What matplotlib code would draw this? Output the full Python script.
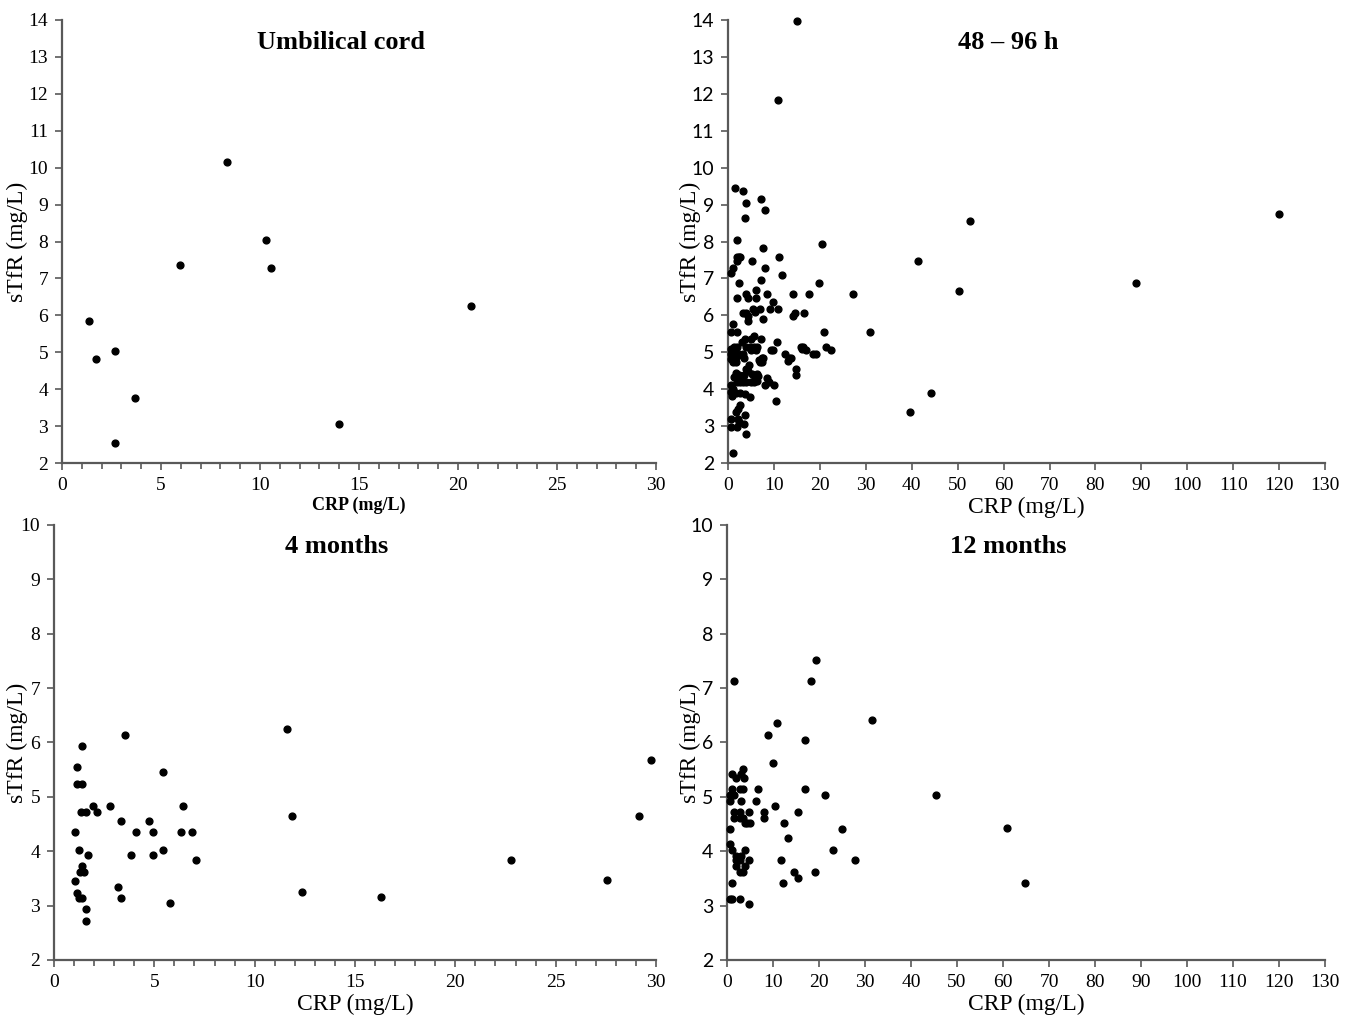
import numpy as np
import matplotlib.pyplot as plt
from matplotlib.ticker import MultipleLocator

# ---- dados: cordão umbilical ----
cord_crp = [1.35, 1.70, 2.66, 2.66, 3.69, 5.94, 8.33, 10.29, 10.58, 13.98, 20.66]
cord_stfr = [5.85, 4.83, 5.04, 2.55, 3.77, 7.37, 10.16, 8.04, 7.28, 3.07, 6.26]

# ---- dados: 48-96 h ----
h48_crp = [15.0, 10.9,
           1.6, 3.2, 4.0, 7.2, 8.0, 3.6, 2.0, 20.4, 7.6,
           1.9, 2.3, 2.7, 1.9, 11.2, 5.2, 8.0, 1.15, 0.7, 11.7, 7.2,
           2.4, 19.7, 6.0, 2.0, 4.0, 4.4, 6.0, 8.5, 14.1, 17.7, 27.2,
           9.75, 9.2, 10.8, 5.4, 6.9, 5.8, 3.2, 4.0, 14.1, 14.5, 16.5,
           4.3, 4.3, 7.6, 1.15,
           0.7, 2.0, 21.0, 30.9, 3.6, 4.9, 5.7, 7.2, 3.1, 4.0, 4.7, 10.75,
           1.3, 1.9, 0.6, 1.0, 1.6, 5.6, 6.3, 6.0, 4.9, 9.3, 9.75,
           15.8, 16.9, 16.4, 16.1, 18.5, 19.1, 21.4, 22.5,
           12.3, 13.3, 13.0, 13.6, 14.8, 14.8,
           0.6, 1.15, 1.6, 2.0, 0.6, 1.15, 1.7, 2.3, 3.2, 3.4,
           6.7, 7.3, 7.7, 6.9, 7.5, 4.6, 3.9, 4.3,
           1.7, 2.3, 1.3, 2.0, 3.4, 3.3, 2.0, 2.7, 3.9, 4.9, 5.6, 6.3, 5.9, 6.2, 5.3, 6.6,
           8.5, 8.0, 8.9, 10.0,
           0.7, 1.15, 0.6, 0.9, 1.7, 2.7, 3.6, 4.7, 10.5,
           2.7, 2.2, 1.7, 0.7, 2.2, 3.6, 2.3, 3.4, 0.7, 1.9, 4.0, 1.15,
           119.9, 52.7, 41.3, 50.2, 88.9, 44.1, 39.7]
h48_stfr = [13.97, 11.83,
            9.46, 9.37, 9.05, 9.15, 8.85, 8.65, 8.04, 7.93, 7.83,
            7.59, 7.59, 7.59, 7.48, 7.59, 7.48, 7.28, 7.27, 7.16, 7.08, 6.97,
            6.88, 6.88, 6.68, 6.47, 6.58, 6.47, 6.47, 6.58, 6.58, 6.58, 6.57,
            6.37, 6.16, 6.16, 6.16, 6.16, 6.10, 6.07, 6.07, 5.98, 6.07, 6.07,
            5.97, 5.85, 5.90, 5.77,
            5.56, 5.56, 5.56, 5.56, 5.36, 5.36, 5.45, 5.36, 5.27, 5.15, 5.15, 5.27,
            5.15, 5.15, 5.10, 5.05, 5.00, 5.15, 5.15, 5.06, 5.06, 5.06, 5.06,
            5.15, 5.06, 5.15, 5.10, 4.96, 4.96, 5.15, 5.06,
            4.96, 4.85, 4.76, 4.85, 4.55, 4.38,
            4.96, 4.90, 4.81, 4.90, 4.81, 4.74, 4.74, 4.96, 4.96, 4.85,
            4.80, 4.85, 4.85, 4.74, 4.74, 4.66, 4.55, 4.48,
            4.45, 4.38, 4.33, 4.28, 4.38, 4.20, 4.20, 4.20, 4.20, 4.20, 4.20, 4.22, 4.31, 4.40, 4.40, 4.36,
            4.30, 4.10, 4.20, 4.10,
            4.10, 4.00, 3.93, 3.82, 3.91, 3.91, 3.87, 3.80, 3.68,
            3.57, 3.46, 3.37, 3.19, 3.19, 3.30, 3.10, 3.07, 2.98, 2.98, 2.78, 2.27,
            8.74, 8.55, 7.48, 6.67, 6.88, 3.89, 3.37]

# ---- dados: 4 meses ----
m4_crp = [1.41, 1.13, 1.13, 1.41, 3.55, 1.33, 1.60, 1.96, 2.16, 2.79, 3.36, 1.03,
          4.10, 4.75, 4.95, 5.42, 6.45, 6.35, 6.90, 1.23, 1.70, 3.82, 4.95, 5.42,
          7.10, 1.41, 1.30, 1.51, 1.03, 1.13, 1.23, 1.41, 3.17, 3.36, 5.78, 1.60,
          1.60, 11.63, 11.86, 12.36, 16.3, 22.77, 27.55, 29.15, 29.75]
m4_stfr = [5.93, 5.55, 5.24, 5.24, 6.14, 4.72, 4.72, 4.83, 4.72, 4.83, 4.55, 4.35,
           4.35, 4.55, 4.35, 5.45, 4.83, 4.35, 4.35, 4.03, 3.93, 3.93, 3.93, 4.03,
           3.83, 3.73, 3.62, 3.62, 3.45, 3.24, 3.14, 3.14, 3.34, 3.14, 3.04, 2.93,
           2.72, 6.24, 4.64, 3.25, 3.16, 3.84, 3.47, 4.64, 5.67]

# ---- dados: 12 meses ----
m12_crp = [1.52, 19.4, 18.3, 31.6, 10.9, 8.84, 17.0, 10.1,
           1.1, 1.9, 3.1, 3.6, 3.55, 1.1, 2.75, 3.55, 0.7, 1.1, 1.5, 0.72, 3.1,
           6.8, 6.4, 17.0, 21.4, 10.5, 1.5, 2.75, 4.8, 1.5, 2.75, 3.55,
           4.0, 4.4, 4.9, 8.0, 8.0, 15.4, 12.5, 25.1, 0.72, 13.3, 0.72, 1.1, 4.0,
           23.1, 1.9, 3.1, 1.9, 2.75, 4.8, 11.7, 27.9, 1.9, 4.0, 2.75, 3.55,
           14.6, 19.1, 15.4, 12.1, 1.1, 0.72, 1.1, 2.75, 4.8,
           45.4, 60.8, 64.8]
m12_stfr = [7.14, 7.52, 7.14, 6.42, 6.35, 6.14, 6.04, 5.63,
            5.42, 5.35, 5.42, 5.35, 5.52, 5.14, 5.14, 5.14, 5.03, 5.03, 5.03, 4.93, 4.93,
            5.14, 4.93, 5.14, 5.03, 4.83, 4.72, 4.72, 4.72, 4.62, 4.62, 4.62,
            4.52, 4.52, 4.52, 4.72, 4.62, 4.72, 4.52, 4.41, 4.41, 4.24, 4.14, 4.03, 4.03,
            4.03, 3.92, 3.92, 3.83, 3.83, 3.83, 3.83, 3.83, 3.72, 3.72, 3.62, 3.62,
            3.62, 3.62, 3.51, 3.41, 3.41, 3.13, 3.13, 3.13, 3.03,
            5.04, 4.42, 3.42]

serif = 'Liberation Serif'
sans = 'Lato'
spine_color = '#595959'

fig = plt.figure(figsize=(13.5, 10.19), dpi=100)

panels = [
    # (pos, x, y, título, xmax, ymax, passo x, minor, fonte y, xlabel negrito, pos. ylabel)
    ([0.0459, 0.5456, 0.4400, 0.4348], cord_crp, cord_stfr, 'Umbilical cord', 30, 14, 5, True, serif, True, -0.058),
    ([0.5393, 0.5456, 0.4422, 0.4348], h48_crp, h48_stfr, '48 – 96 h', 130, 14, 10, False, sans, False, -0.046),
    ([0.0400, 0.0579, 0.4459, 0.4269], m4_crp, m4_stfr, '4 months', 30, 10, 5, True, serif, False, -0.044),
    ([0.5385, 0.0579, 0.4430, 0.4269], m12_crp, m12_stfr, '12 months', 130, 10, 10, False, sans, False, -0.044),
]

for pos, xs, ys, title, xmax, ymax, xstep, minor, yfont, bold_x, ylab_x in panels:
    ax = fig.add_axes(pos)
    ax.scatter(xs, ys, s=24, color='black', zorder=3, clip_on=False)
    ax.set_xlim(0, xmax)
    ax.set_ylim(2, ymax)
    ax.xaxis.set_major_locator(MultipleLocator(xstep))
    ax.yaxis.set_major_locator(MultipleLocator(1))
    if minor:
        ax.xaxis.set_minor_locator(MultipleLocator(1))
    for s in ['top', 'right']:
        ax.spines[s].set_visible(False)
    for s in ['left', 'bottom']:
        ax.spines[s].set_color(spine_color)
        ax.spines[s].set_linewidth(1.6)
    ax.tick_params(which='both', direction='out', color=spine_color, width=1.2)
    ax.tick_params(which='major', length=5, pad=5)
    ax.tick_params(which='minor', length=4)
    for lab in ax.get_xticklabels():
        lab.set_fontfamily(serif)
        lab.set_fontsize(14)
    for lab in ax.get_yticklabels():
        lab.set_fontfamily(yfont)
        lab.set_fontsize(14)
    if bold_x:
        ax.set_xlabel('CRP (mg/L)', fontfamily=serif, fontsize=13, fontweight='bold', labelpad=2)
    else:
        ax.set_xlabel('CRP (mg/L)', fontfamily=serif, fontsize=17, labelpad=2)
    ax.set_ylabel('sTfR (mg/L)', fontfamily=serif, fontsize=17)
    ax.yaxis.set_label_coords(ylab_x, 0.5)
    ax.text(0.47, 0.95, title, transform=ax.transAxes, ha='center', va='center',
            fontfamily=serif, fontsize=19, fontweight='bold')

plt.savefig('out.png', dpi=100)
